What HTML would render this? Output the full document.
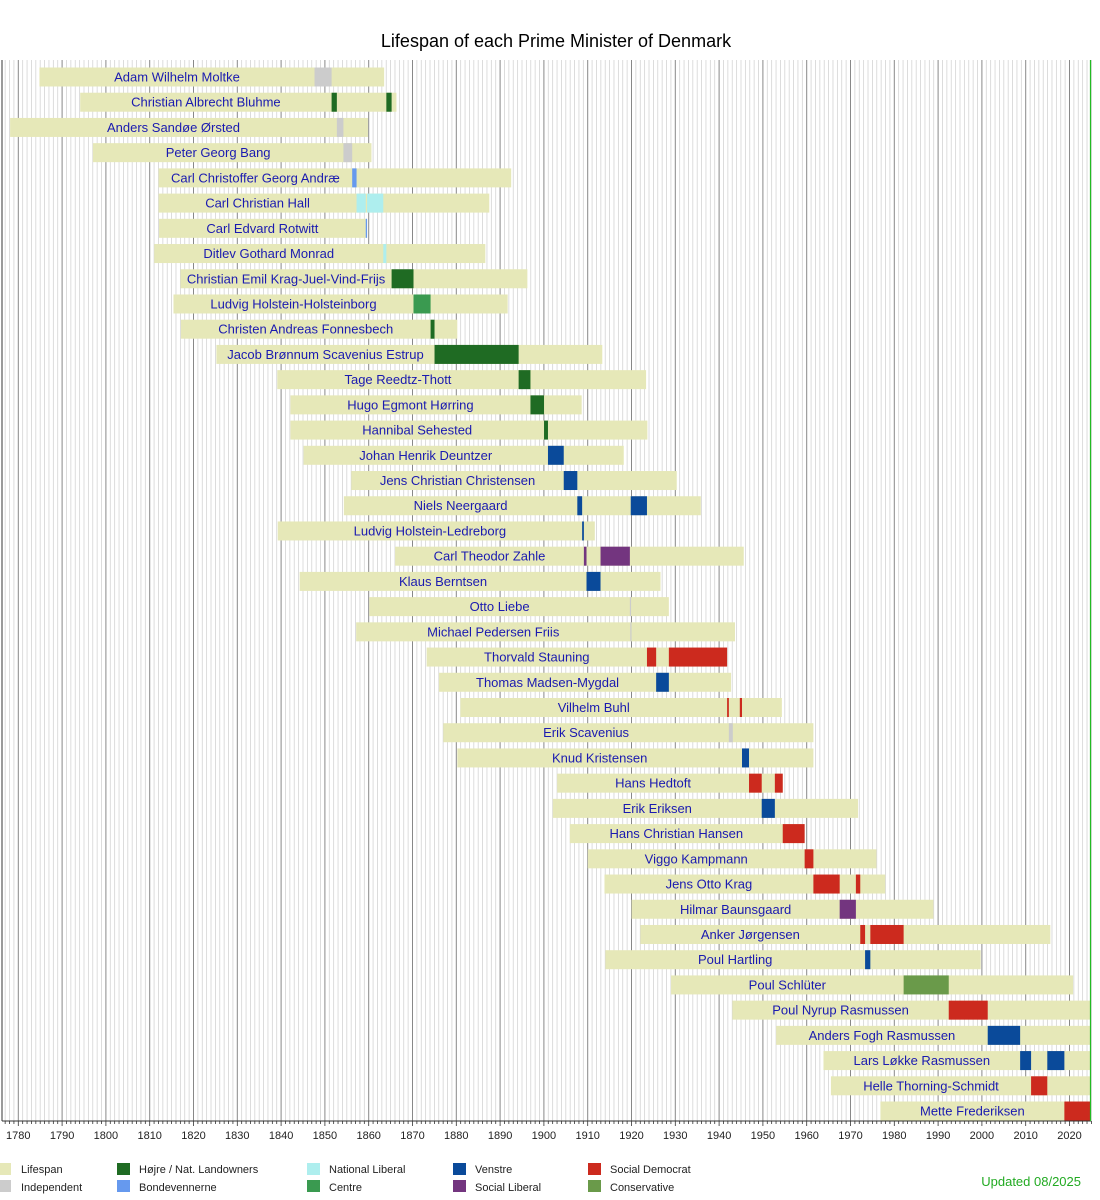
<!DOCTYPE html>
<html><head><meta charset="utf-8"><style>
body{margin:0;background:#fff;width:1100px;height:1200px;overflow:hidden}
svg{display:block}
text{font-family:"Liberation Sans",sans-serif}
</style></head><body>
<svg id="s" width="1100" height="1200" xmlns="http://www.w3.org/2000/svg">
<rect width="1100" height="1200" fill="#fff"/>
<text x="556" y="47" font-size="18" text-anchor="middle" fill="#000">Lifespan of each Prime Minister of Denmark</text>
<g id="grid"></g><g id="bars"></g><g id="axis"></g>
<g font-size="11" fill="#222">
<rect x="0" y="1163" width="11" height="12" fill="#e6e8b8"/><text x="21" y="1173">Lifespan</text>
<rect x="0" y="1180" width="11" height="12" fill="#cccccc"/><text x="21" y="1191">Independent</text>
<rect x="117" y="1163" width="13" height="12" fill="#1f6b23"/><text x="139" y="1173">Højre / Nat. Landowners</text>
<rect x="117" y="1180" width="13" height="12" fill="#6699ee"/><text x="139" y="1191">Bondevennerne</text>
<rect x="307" y="1163" width="13" height="12" fill="#aeeeee"/><text x="329" y="1173">National Liberal</text>
<rect x="307" y="1180" width="13" height="12" fill="#3a9a50"/><text x="329" y="1191">Centre</text>
<rect x="453" y="1163" width="13" height="12" fill="#0a4a9a"/><text x="475" y="1173">Venstre</text>
<rect x="453" y="1180" width="13" height="12" fill="#73357f"/><text x="475" y="1191">Social Liberal</text>
<rect x="588" y="1163" width="13" height="12" fill="#cc2a1e"/><text x="610" y="1173">Social Democrat</text>
<rect x="588" y="1180" width="13" height="12" fill="#6a9a4a"/><text x="610" y="1191">Conservative</text>
</g>
<text x="1081" y="1186" font-size="13" text-anchor="end" fill="#22aa22">Updated 08/2025</text>
</svg>
<script>
var X=function(y){return 18.3+(y-1780)*4.38;};
var XB=function(y){return X(y)-2.5;};
var C={I:"#cccccc",H:"#1f6b23",B:"#6699ee",N:"#aeeeee",V:"#0a4a9a",S:"#73357f",D:"#cc2a1e",K:"#6a9a4a",Z:"#3a9a50"};
var P=[
["Adam Wilhelm Moltke",1785.4,1864.1,[["I",1848.2,1852.1]]],
["Christian Albrecht Bluhme",1794.7,1866.9,[["H",1852.1,1853.3],["H",1864.6,1865.8]]],
["Anders Sandøe Ørsted",1778.7,1860.4,[["I",1853.3,1854.8]]],
["Peter Georg Bang",1797.6,1861.2,[["I",1854.8,1856.8]]],
["Carl Christoffer Georg Andræ",1812.6,1893.1,[["B",1856.8,1857.8]]],
["Carl Christian Hall",1812.6,1888.1,[["N",1857.8,1859.9],["N",1860.2,1863.9]]],
["Carl Edvard Rotwitt",1812.7,1860.2,[["B",1859.9,1860.2]]],
["Ditlev Gothard Monrad",1811.6,1887.2,[["N",1863.9,1864.6]]],
["Christian Emil Krag-Juel-Vind-Frijs",1817.6,1896.8,[["H",1865.8,1870.8]]],
["Ludvig Holstein-Holsteinborg",1816.0,1892.3,[["Z",1870.8,1874.7]]],
["Christen Andreas Fonnesbech",1817.7,1880.8,[["H",1874.7,1875.6]]],
["Jacob Brønnum Scavenius Estrup",1825.8,1913.9,[["H",1875.6,1894.8]]],
["Tage Reedtz-Thott",1839.7,1923.9,[["H",1894.8,1897.5]]],
["Hugo Egmont Hørring",1842.7,1909.2,[["H",1897.5,1900.6]]],
["Hannibal Sehested",1842.7,1924.2,[["H",1900.6,1901.5]]],
["Johan Henrik Deuntzer",1845.7,1918.8,[["V",1901.5,1905.1]]],
["Jens Christian Christensen",1856.6,1930.9,[["V",1905.1,1908.2]]],
["Niels Neergaard",1854.9,1936.4,[["V",1908.2,1909.3],["V",1920.4,1924.1]]],
["Ludvig Holstein-Ledreborg",1839.8,1912.2,[["V",1909.3,1909.7]]],
["Carl Theodor Zahle",1866.6,1946.2,[["S",1909.7,1910.3],["S",1913.5,1920.2]]],
["Klaus Berntsen",1844.8,1927.2,[["V",1910.3,1913.5]]],
["Otto Liebe",1860.7,1929.1,[["I",1920.2,1920.3]]],
["Michael Pedersen Friis",1857.7,1944.2,[["I",1920.3,1920.4]]],
["Thorvald Stauning",1873.8,1942.4,[["D",1924.1,1926.2],["D",1929.1,1942.4]]],
["Thomas Madsen-Mygdal",1876.6,1943.3,[["V",1926.2,1929.1]]],
["Vilhelm Buhl",1881.5,1954.9,[["D",1942.4,1942.8],["D",1945.3,1945.8]]],
["Erik Scavenius",1877.6,1962.1,[["I",1942.8,1943.7]]],
["Knud Kristensen",1880.8,1962.1,[["V",1945.8,1947.4]]],
["Hans Hedtoft",1903.6,1955.1,[["D",1947.4,1950.3],["D",1953.3,1955.1]]],
["Erik Eriksen",1902.6,1972.3,[["V",1950.3,1953.3]]],
["Hans Christian Hansen",1906.5,1960.1,[["D",1955.1,1960.1]]],
["Viggo Kampmann",1910.6,1976.5,[["D",1960.1,1962.1]]],
["Jens Otto Krag",1914.4,1978.5,[["D",1962.1,1968.1],["D",1971.8,1972.8]]],
["Hilmar Baunsgaard",1920.6,1989.5,[["S",1968.1,1971.8]]],
["Anker Jørgensen",1922.6,2016.2,[["D",1972.8,1973.9],["D",1975.1,1982.7]]],
["Poul Hartling",1914.6,2000.3,[["V",1973.9,1975.1]]],
["Poul Schlüter",1929.6,2021.4,[["K",1982.7,1993.0]]],
["Poul Nyrup Rasmussen",1943.6,2025.6,[["D",1993.0,2001.9]]],
["Anders Fogh Rasmussen",1953.6,2025.6,[["V",2001.9,2009.3]]],
["Lars Løkke Rasmussen",1964.4,2025.6,[["V",2009.3,2011.8],["V",2015.5,2019.4]]],
["Helle Thorning-Schmidt",1966.1,2025.6,[["D",2011.8,2015.5]]],
["Mette Frederiksen",1977.4,2025.6,[["D",2019.4,2025.6]]]
];
var ns="http://www.w3.org/2000/svg";
function el(p,t,a,txt){var e=document.createElementNS(ns,t);for(var k in a)e.setAttribute(k,a[k]);if(txt)e.textContent=txt;p.appendChild(e);return e;}
var g=document.getElementById("grid"),b=document.getElementById("bars"),ax=document.getElementById("axis");
var T=60,B=1121;
for(var y=1777;y<=2025;y++){var x=X(y);var maj=y%10==0;
 el(g,"line",{x1:x,x2:x,y1:T,y2:B,stroke:maj?"#888":"#d4d4d4","stroke-width":maj?1:0.8});
 el(ax,"line",{x1:x,x2:x,y1:B,y2:B+(maj?5:3),stroke:"#333","stroke-width":0.8});
 if(maj)el(ax,"text",{x:x,y:1139,"font-size":"11","text-anchor":"middle",fill:"#222"},String(y));
}
el(ax,"line",{x1:2,x2:2,y1:T,y2:B,stroke:"#333","stroke-width":1});
el(ax,"line",{x1:2,x2:1091,y1:B,y2:B,stroke:"#333","stroke-width":1});
el(ax,"line",{x1:1090.5,x2:1090.5,y1:T,y2:B,stroke:"#22bb22","stroke-width":1.2});
P.forEach(function(p,i){var cy=77+i*25.22;var x1=XB(p[1]),x2=Math.min(XB(p[2]),1090);
 el(b,"rect",{x:x1,y:cy-9.5,width:x2-x1,height:19,fill:"#e6e8b8"});
 p[3].forEach(function(t){var a=XB(t[1]),c=Math.min(XB(t[2]),1090);el(b,"rect",{x:a,y:cy-9.5,width:Math.max(c-a,1.2),height:19,fill:C[t[0]]});});
 var ts=XB(p[3][0][1]);
 el(b,"text",{x:(x1+ts)/2,y:cy+4.5,"font-size":"13","text-anchor":"middle",fill:"#1a1ab0"},p[0]);
});
</script>
</body></html>
